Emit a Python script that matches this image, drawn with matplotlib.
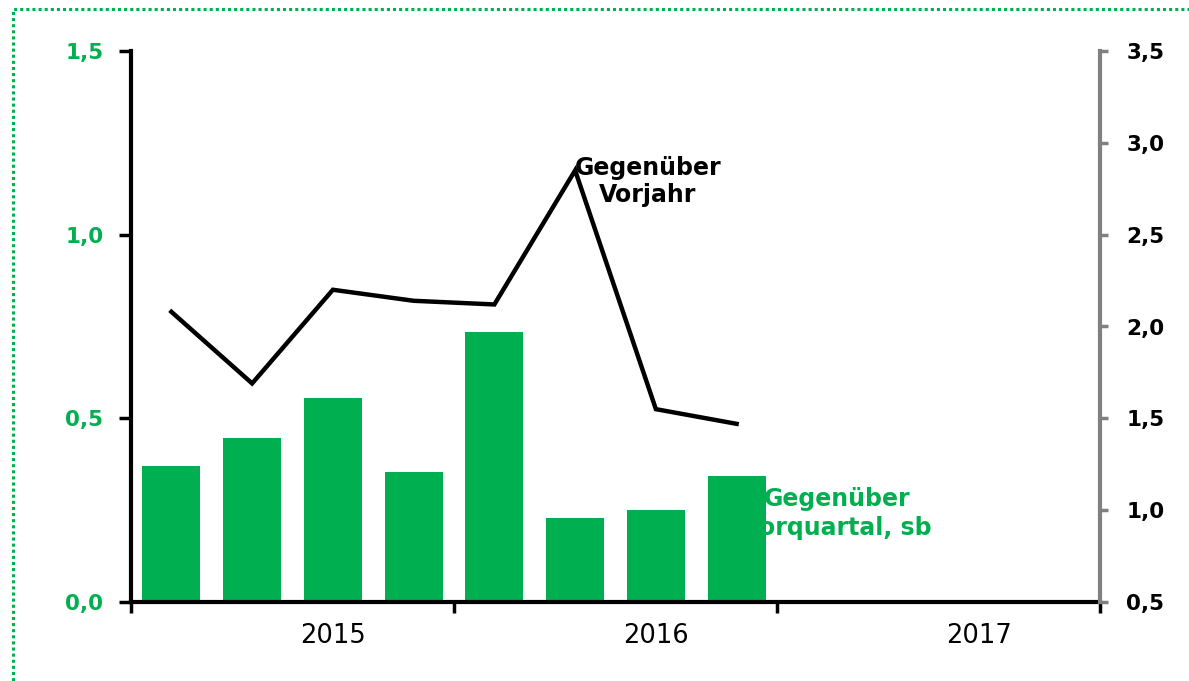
import numpy as np
import matplotlib
matplotlib.use('Agg')
import matplotlib.pyplot as plt
from matplotlib.patches import Rectangle

matplotlib.rcParams['font.family'] = ['DejaVu Sans']

# Daten: Quartale 2015-2017
years = ['2015', '2016', '2017']
quarters_per_year = 4
# Gegenüber Vorquartal, sb (linke Achse)
qoq = [0.371, 0.447, 0.556, 0.354, 0.736, 0.229, 0.251, 0.343]
# Gegenüber Vorjahr (rechte Achse)
yoy = [2.08, 1.69, 2.20, 2.14, 2.12, 2.85, 1.55, 1.47]

green = '#00B050'
grey = '#808080'

fig = plt.figure(figsize=(11.89, 6.81), dpi=100)
ax = fig.add_axes([131 / 1189, 1 - 602 / 681, 969 / 1189, 551 / 681])
ax2 = ax.twinx()

n_slots = len(years) * quarters_per_year
x = np.arange(len(qoq)) + 0.5

# Balken
ax.bar(x, qoq, width=0.72, color=green, zorder=3)
ax.set_xlim(0, n_slots)
ax.set_ylim(0, 1.5)
ax.set_yticks([0, 0.5, 1.0, 1.5])
ax.set_yticklabels(['0,0', '0,5', '1,0', '1,5'])
ax.tick_params(axis='y', direction='out', length=9, width=2.5, colors='black',
               labelcolor=green, labelsize=15.5, pad=11)
for lab in ax.get_yticklabels():
    lab.set_fontweight('bold')

# Jahresachse
ax.set_xticks(np.arange(0, n_slots + 1, quarters_per_year))
ax.set_xticklabels([])
ax.set_xticks(np.arange(len(years)) * quarters_per_year + 2.5, minor=True)
ax.set_xticklabels(years, minor=True)
ax.tick_params(axis='x', which='major', direction='out', length=8, width=2.5)
ax.tick_params(axis='x', which='minor', length=0, labelsize=18.5, pad=15)

ax.spines['top'].set_visible(False)
ax.spines['right'].set_visible(False)
ax.spines['left'].set_linewidth(3)
ax.spines['bottom'].set_linewidth(3)
ax.spines['bottom'].set_zorder(5)

# Linie
ax2.plot(x, yoy, color='black', linewidth=3.2, solid_joinstyle='miter', zorder=4)
ax2.set_ylim(0.5, 3.5)
ax2.set_yticks([0.5, 1.0, 1.5, 2.0, 2.5, 3.0, 3.5])
ax2.set_yticklabels(['0,5', '1,0', '1,5', '2,0', '2,5', '3,0', '3,5'])
ax2.tick_params(axis='y', direction='out', length=6, width=2.5, colors=grey,
                labelcolor='black', labelsize=15.5, pad=13)
for lab in ax2.get_yticklabels():
    lab.set_fontweight('bold')
for s in ['top', 'left', 'bottom']:
    ax2.spines[s].set_visible(False)
ax2.spines['right'].set_color(grey)
ax2.spines['right'].set_linewidth(3)

# Beschriftungen
ax2.text(6.4, 2.79, 'Gegenüber\nVorjahr', ha='center', va='center',
         fontsize=17, fontweight='bold', color='black', linespacing=1.2)
ax.text(8.74, 0.24, 'Gegenüber\nVorquartal, sb', ha='center', va='center',
        fontsize=17, fontweight='bold', color=green, linespacing=1.25, zorder=1)

# gepunkteter Rahmen
fig.add_artist(Rectangle((13 / 1189, -0.1), 1.2, 1 - 9 / 681 + 0.1,
                         transform=fig.transFigure, fill=False,
                         edgecolor=green, linestyle=(0, (1, 1)), linewidth=2.2))

fig.savefig('out.png', dpi=100)
